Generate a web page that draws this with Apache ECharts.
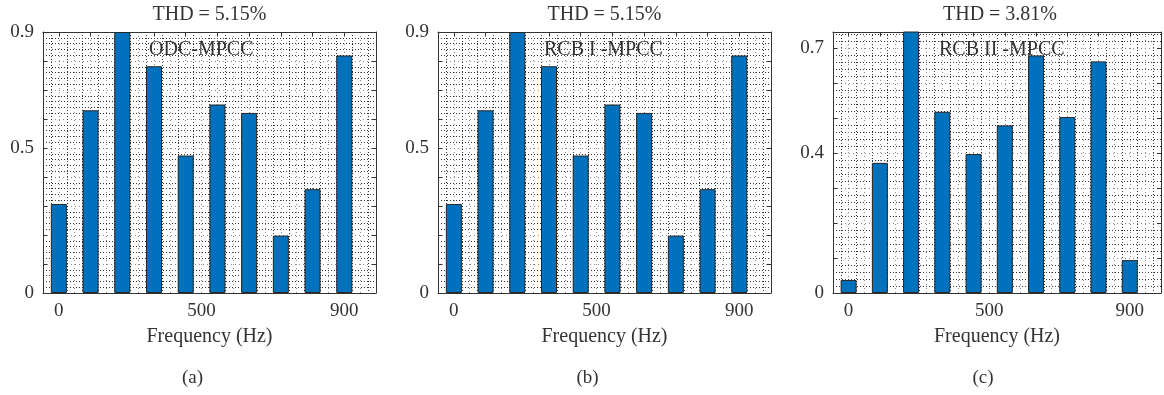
<!DOCTYPE html>
<html>
<head>
<meta charset="utf-8">
<script src="https://cdn.jsdelivr.net/npm/echarts@6/dist/echarts.min.js"></script>
<style>
  html, body { margin: 0; padding: 0; background: #fff; }
  #main { width: 1164px; height: 395px; }
</style>
</head>
<body>
<div id="main"></div>
<script>
// harmonic bins (bar index) and the frequency labels shown under them
var barPos = [0, 1, 2, 3, 4, 5, 6, 7, 8, 9];
var xTickPos = [0, 4.5, 9];
var xTickText = ['0', '500', '900'];

// magnitudes
var ampA = [0.307, 0.630, 0.90, 0.782, 0.474, 0.650, 0.621, 0.198, 0.358, 0.819];
var ampB = [0.307, 0.630, 0.90, 0.782, 0.474, 0.650, 0.621, 0.198, 0.358, 0.819];
var ampC = [0.037, 0.372, 0.75, 0.518, 0.397, 0.479, 0.679, 0.503, 0.662, 0.094];

var yTicksA = [0, 0.5, 0.9];
var yTicksB = [0, 0.5, 0.9];
var yTicksC = [0, 0.4, 0.7];
var yMaxList = [0.9, 0.9, 0.746];

var thdText = ['THD = 5.15%', 'THD = 5.15%', 'THD = 3.81%'];
var methodText = ['ODC-MPCC', 'RCB I -MPCC', 'RCB II -MPCC'];
var captionText = ['(a)', '(b)', '(c)'];

var FONT = '"Liberation Serif", "Times New Roman", serif';
var INK = '#333';

var chart = echarts.init(document.getElementById('main'));

// pixel layout of the three panels
var panelLeft = [43, 438, 833];
var panelWidth = [333, 333, 334];
var panelTop = 32;
var panelHeight = 261;

function pick(list, texts) {
  return function (v) {
    for (var i = 0; i < list.length; i++) {
      if (Math.abs(v - list[i]) < 1e-6) return texts ? texts[i] : String(list[i]);
    }
    return '';
  };
}

var grids = [], xAxes = [], yAxes = [], series = [], graphics = [];
var amps = [ampA, ampB, ampC];
var yTicks = [yTicksA, yTicksB, yTicksC];

var majorGrid = { show: true, lineStyle: { color: '#888', width: 1, type: [1, 3] } };
var minorGrid = { show: true, lineStyle: { color: '#333', width: 1, type: [1, 2] } };
var frameLine = { show: true, onZero: false, lineStyle: { color: INK, width: 1 } };

for (var k = 0; k < 3; k++) {
  grids.push({ left: panelLeft[k], top: panelTop, width: panelWidth[k], height: panelHeight });

  // main x axis: grid, labels and name
  xAxes.push({
    gridIndex: k, type: 'value', position: 'bottom',
    min: -0.5, max: 10, interval: 0.5,
    axisLine: frameLine,
    axisTick: { show: false },
    axisLabel: { formatter: pick(xTickPos, xTickText), margin: 9, fontSize: 19, color: INK, fontFamily: FONT },
    splitLine: majorGrid,
    minorTick: { show: false, splitNumber: 2 },
    minorSplitLine: minorGrid,
    name: 'Frequency (Hz)', nameLocation: 'middle', nameGap: 34,
    nameTextStyle: { fontSize: 20, color: INK, fontFamily: FONT }
  });
  // tick marks at bar centres, bottom and top
  xAxes.push({
    gridIndex: k, type: 'value', position: 'bottom', min: -0.5, max: 10,
    axisLine: { show: false, onZero: false },
    axisTick: { show: true, inside: true, length: 4, customValues: barPos, lineStyle: { color: INK } },
    axisLabel: { show: false }, splitLine: { show: false }
  });
  xAxes.push({
    gridIndex: k, type: 'value', position: 'top', min: -0.5, max: 10,
    axisLine: frameLine,
    axisTick: { show: true, inside: true, length: 4, customValues: barPos, lineStyle: { color: INK } },
    axisLabel: { show: false }, splitLine: { show: false }
  });

  yAxes.push({
    gridIndex: k, type: 'value', position: 'left',
    min: 0, max: yMaxList[k], interval: 0.1,
    axisLine: frameLine,
    axisTick: { show: true, inside: true, length: 4, lineStyle: { color: INK } },
    axisLabel: { formatter: pick(yTicks[k]), margin: 9, fontSize: 19, color: INK, fontFamily: FONT },
    splitLine: majorGrid,
    minorTick: { show: false, splitNumber: 5 },
    minorSplitLine: minorGrid
  });
  yAxes.push({
    gridIndex: k, type: 'value', position: 'right',
    min: 0, max: yMaxList[k], interval: 0.1,
    axisLine: frameLine,
    axisTick: { show: true, inside: true, length: 4, lineStyle: { color: INK } },
    axisLabel: { show: false }, splitLine: { show: false }
  });

  series.push({
    type: 'bar',
    xAxisIndex: k * 3, yAxisIndex: k * 2,
    barWidth: 16, clip: true,
    data: barPos.map(function (p, i) { return [p, amps[k][i]]; }),
    itemStyle: { color: '#0072BD', borderColor: '#262626', borderWidth: 1 },
    z: 3
  });

  var cx = panelLeft[k] + panelWidth[k] / 2;
  graphics.push({
    type: 'text', x: cx, y: 15, z: 100,
    style: { text: thdText[k], fill: INK, font: '20px ' + FONT, align: 'center', verticalAlign: 'middle' }
  });
  graphics.push({
    type: 'text', x: panelLeft[k] + 106, y: 50, z: 100,
    style: { text: methodText[k], fill: INK, font: '20px ' + FONT, align: 'left', verticalAlign: 'middle' }
  });
  graphics.push({
    type: 'text', x: cx - 17, y: 378, z: 100,
    style: { text: captionText[k], fill: INK, font: '19px ' + FONT, align: 'center', verticalAlign: 'middle' }
  });
}

chart.setOption({
  backgroundColor: '#fff',
  animation: false,
  grid: grids,
  xAxis: xAxes,
  yAxis: yAxes,
  series: series,
  graphic: graphics
});
</script>
</body>
</html>
